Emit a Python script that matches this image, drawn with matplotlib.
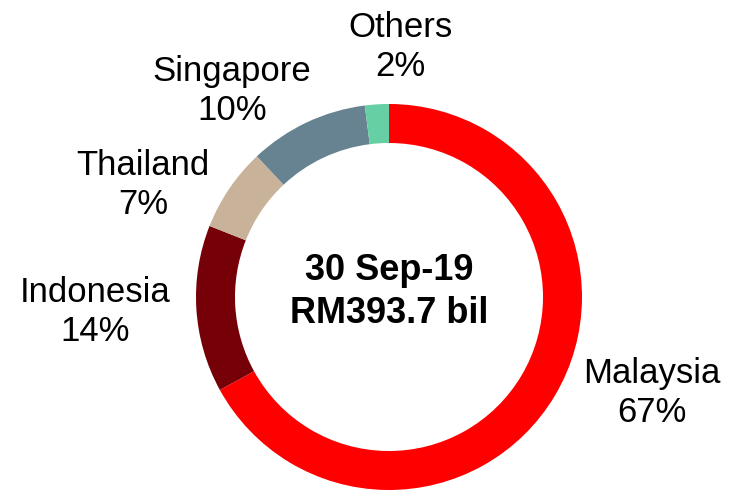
import matplotlib.pyplot as plt

plt.rcParams['font.family'] = ['Liberation Sans', 'DejaVu Sans']

# 數據
countries = ['Malaysia', 'Indonesia', 'Thailand', 'Singapore', 'Others']
shares = [67, 14, 7, 10, 2]
colors = ['#FF0000', '#760008', '#C8B29A', '#678291', '#66CFA3']
center_text = '30 Sep-19\nRM393.7 bil'

W, H = 736, 497
fig = plt.figure(figsize=(W / 100, H / 100), dpi=100)
ax = fig.add_axes([0, 0, 1, 1])


def py(y):  # 像素y轉成座標y(上到下)
    return H - y


cx, cy, r = 389, 297, 193
ax.pie(shares, colors=colors, startangle=90, counterclock=False,
       center=(cx, py(cy)), radius=r, frame=True,
       wedgeprops=dict(width=39, edgecolor='none'))
ax.set_xlim(0, W)
ax.set_ylim(0, H)
ax.set_aspect('equal')
ax.axis('off')

# 標籤位置
label_pos = {
    'Malaysia': (652, 393),
    'Indonesia': (95, 312),
    'Thailand': (143, 185),
    'Singapore': (232, 91),
    'Others': (400, 47),
}
for name, val in zip(countries, shares):
    x, y = label_pos[name]
    ax.text(x, py(y), f'{name}\n{val}%', ha='center', va='center',
            fontsize=25, linespacing=1.22)

ax.text(cx, py(292), center_text, ha='center', va='center',
        fontsize=26, fontweight='bold', linespacing=1.3)

fig.savefig('out.png', dpi=100)
